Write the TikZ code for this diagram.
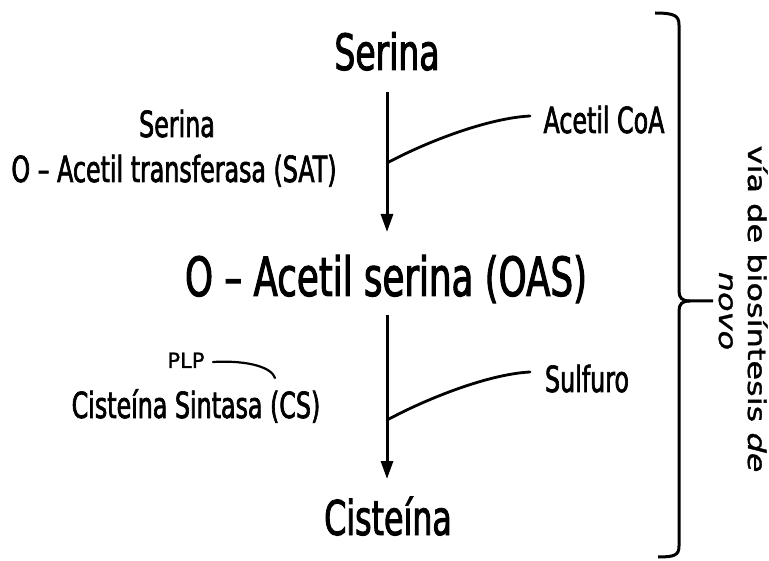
\documentclass[tikz,border=0pt]{standalone}
\usepackage{fontspec}
\usetikzlibrary{arrows.meta}
\newfontfamily\labelfont[FakeStretch=0.66,FakeBold=1.8]{DejaVu Sans}
\newfontfamily\sidefont[FakeStretch=1.3,FakeBold=1.4]{DejaVu Sans}
\newfontfamily\plpfont[FakeBold=1.2]{DejaVu Sans}

\begin{document}
\begin{tikzpicture}[x=1pt,y=-1pt,
  compound/.style={font=\labelfont\fontsize{50}{56}\selectfont, anchor=base, inner sep=0pt},
  lab/.style={font=\labelfont\fontsize{36}{40}\selectfont, anchor=base, inner sep=0pt},
  cofactor/.style={font=\plpfont\fontsize{21}{24}\selectfont, anchor=base, inner sep=0pt},
  side/.style={font=\sidefont\fontsize{24.6}{30}\selectfont, anchor=base, inner sep=0pt, rotate=-90},
  flow/.style={line width=3pt, -{Triangle[width=12pt,length=18pt]}},
  feed/.style={line width=2.8pt, line cap=round},
  brace/.style={line width=3pt}]

\path[use as bounding box] (0,0) rectangle (769,561);

% compounds of the pathway
\node[compound] (ser) at (387,70) {Serina};
\node[compound, font=\labelfont\fontsize{54}{60}\selectfont] (oas) at (386,296) {O – Acetil serina (OAS)};
\node[compound, font=\labelfont\fontsize{48}{54}\selectfont] (cys) at (388,535) {Cisteína};

% enzymes and co-substrates
\node[lab] (sat1) at (177,137) {Serina};
\node[lab] (sat2) at (174,182) {O – Acetil transferasa (SAT)};
\node[lab] (acoa) at (604,133) {Acetil CoA};
\node[lab] (cs) at (196,418) {Cisteína Sintasa (CS)};
\node[lab] (sulf) at (587,392) {Sulfuro};
\node[cofactor] (plp) at (186,368) {PLP};

% reaction arrows
\coordinate (a1s) at (387,92);
\coordinate (a1e) at (387,232);
\coordinate (j1) at (387,163);
\coordinate (c1) at (530,116);
\coordinate (a2s) at (387,315);
\coordinate (a2e) at (387,479);
\coordinate (j2) at (387,420);
\coordinate (c2) at (530,372);
\coordinate (p1) at (213,362);
\coordinate (p2) at (275,378);

\draw[flow] (a1s) -- (a1e);
\draw[flow] (a2s) -- (a2e);
\draw[feed] (j1) .. controls (430,140) and (490,118) .. (c1);
\draw[feed] (j2) .. controls (430,397) and (490,374) .. (c2);
\draw[line width=2.2pt, line cap=round] (p1) .. controls (250,360) and (272,368) .. (p2);

% brace grouping the whole pathway
\coordinate (bt) at (655,13);
\coordinate (bm) at (713,301);
\coordinate (bb) at (658,557);
\draw[brace] (bt) .. controls (675,13) and (679,16) .. (679,25) -- (679,291)
  .. controls (679,298) and (682,301) .. (690,301) -- (bm);
\draw[brace] (690,301) .. controls (682,301) and (679,304) .. (679,311) -- (679,546)
  .. controls (679,555) and (675,557) .. (bb);

% side caption
\node[side] (via) at (748,309) {vía de biosíntesis \textit{de}};
\node[side] (novo) at (719,311) {\textit{novo}};
\end{tikzpicture}
\end{document}
